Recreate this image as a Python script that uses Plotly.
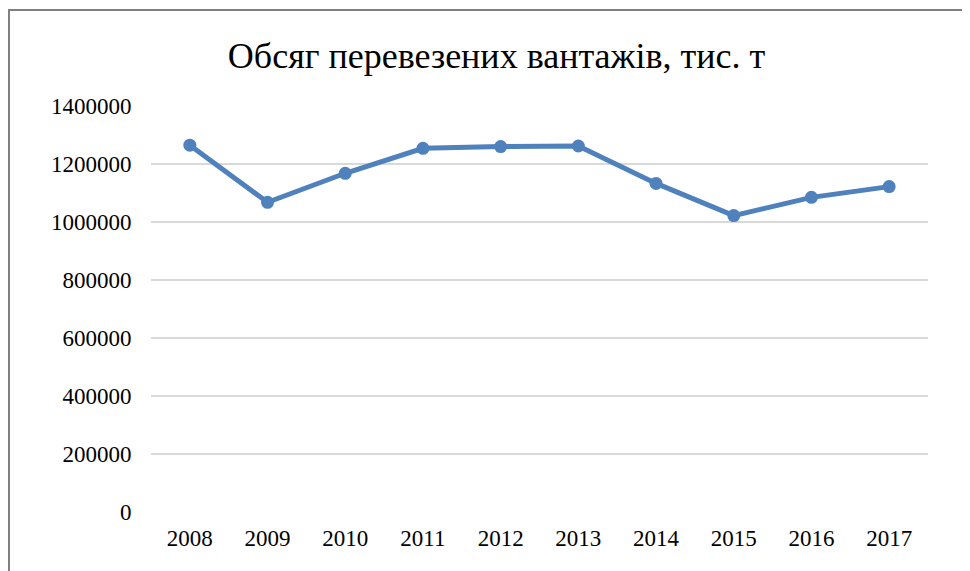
import plotly.graph_objects as go

years = ["2008", "2009", "2010", "2011", "2012", "2013", "2014", "2015", "2016", "2017"]
volume = [1265000, 1068000, 1168000, 1254000, 1260000, 1262000, 1133000, 1022000, 1085000, 1122000]
y_ticks = [0, 200000, 400000, 600000, 800000, 1000000, 1200000, 1400000]
title_text = "Обсяг перевезених вантажів, тис. т"

# the page places the figure at an 8px body offset
OFF = 8
W, H = 970, 571
L, T = 151 - OFF, 106 - OFF
R = W - (928 - OFF)
B = H - (512 - OFF)
SERIF = "Liberation Serif"

fig = go.Figure()
fig.add_trace(go.Scatter(
    x=years, y=volume, mode="lines+markers",
    line=dict(color="#4F81BD", width=5),
    marker=dict(color="#4F81BD", size=13),
    showlegend=False,
))

pw = W - L - R
ph = H - T - B
fig.add_shape(type="rect", xref="paper", yref="paper",
              x0=(9 - OFF - L) / pw, x1=(W + 40 - L) / pw,
              y0=-(H + 40 - (H - B)) / ph, y1=((H - B) - (10 - OFF)) / ph,
              line=dict(color="#808080", width=2), fillcolor="rgba(0,0,0,0)", layer="below")

fig.update_layout(
    width=W, height=H,
    margin=dict(l=L, r=R, t=T, b=B),
    paper_bgcolor="white", plot_bgcolor="white",
    font=dict(family=SERIF, size=23, color="black"),
    title=dict(text=title_text, x=((228 + 765) / 2 - OFF) / W, xanchor="center",
               y=1 - (55 - OFF) / H, yanchor="middle",
               font=dict(size=36, family=SERIF, color="black")),
)
fig.update_xaxes(type="category", showgrid=False, showline=False, zeroline=False,
                 ticks="outside", ticklen=5, tickcolor="rgba(0,0,0,0)",
                 tickfont=dict(family=SERIF, size=23, color="black"),
                 range=[-0.5, len(years) - 0.5])
fig.update_yaxes(range=[0, 1400000], tickvals=y_ticks, ticktext=[str(v) for v in y_ticks],
                 showgrid=True, gridcolor="#D9D9D9", gridwidth=1.5,
                 zeroline=False, showline=False,
                 tickfont=dict(family=SERIF, size=23, color="black"),
                 ticks="outside", ticklen=14, tickcolor="rgba(0,0,0,0)")

fig.write_html("out.html")
